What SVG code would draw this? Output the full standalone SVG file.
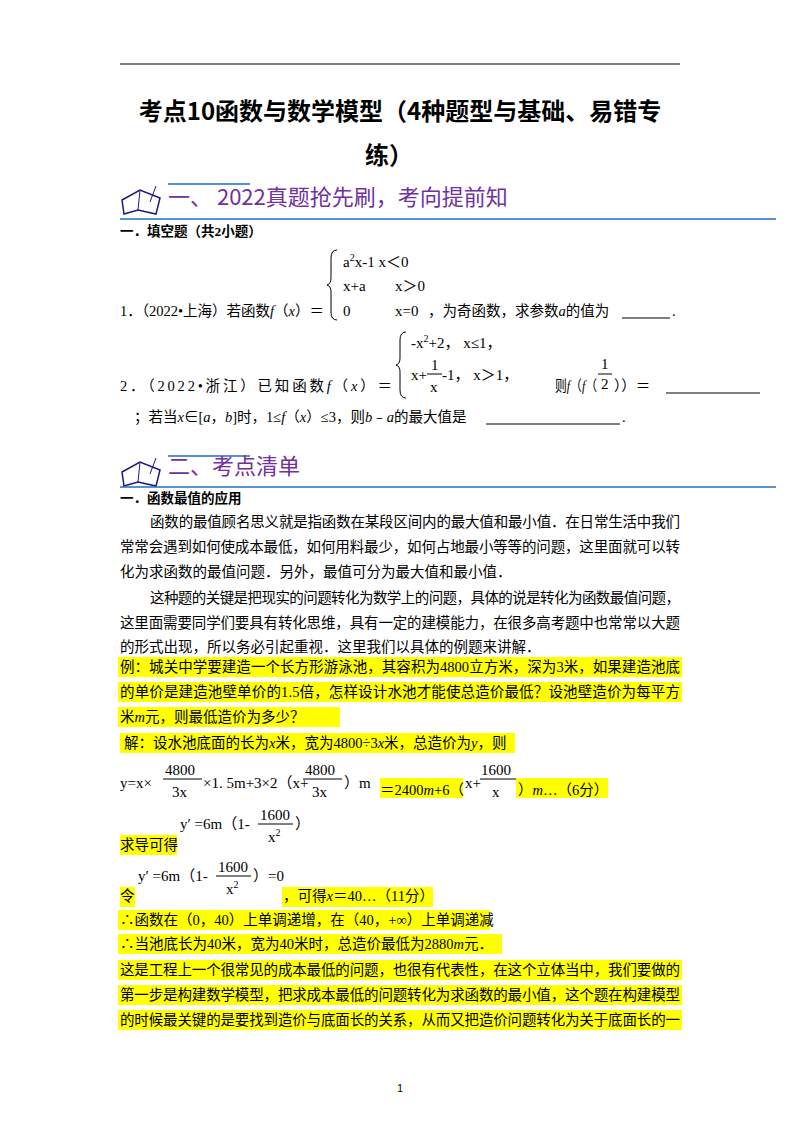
<svg xmlns="http://www.w3.org/2000/svg" width="800" height="1132" viewBox="0 0 800 1132">
<style>
text{font-family:"Liberation Serif","Noto Sans CJK SC",serif;font-size:14.5px;fill:#000}
.m{font-family:"Liberation Serif","Noto Sans CJK SC",serif;font-size:15px}
.b{font-weight:bold;font-size:13.5px}
.h{font-family:"Noto Sans CJK SC",sans-serif;font-size:22px;fill:#7030a0}
.hl{fill:#ffff00}
.bl{stroke:#1f6fc5;stroke-width:1.5}
</style>
<rect width="800" height="1132" fill="#fff"/>
<line x1="120" y1="64" x2="680" y2="64" stroke="#000" stroke-width="1"/>
<text x="400" y="120" text-anchor="middle" style="font-family:'Noto Sans CJK SC',sans-serif;font-weight:bold;font-size:24px">考点10函数与数学模型（4种题型与基础、易错专</text>
<text x="389" y="164" text-anchor="middle" style="font-family:'Noto Sans CJK SC',sans-serif;font-weight:bold;font-size:24px">练）</text>
<g id="icon1">
<path d="M122 200 L140 190 L160 198 L156 214 L138 210 L124 214 Z" fill="#fff" stroke="#1a1a80" stroke-width="1.5"/>
<line x1="140" y1="190" x2="138" y2="210" stroke="#1a1a80"/>
<line x1="150" y1="202" x2="156" y2="186" stroke="#1a1a80"/>
</g>
<line x1="168" y1="184" x2="250" y2="184" class="bl"/>
<text x="168" y="205" class="h">一、  2022真题抢先刷，考向提前知</text>
<line x1="120" y1="219" x2="776" y2="219" class="bl"/>
<text x="120" y="236" class="b">一．填空题（共2小题）</text>
<path d="M337 250 Q331 250 331 258 L331 278 Q331 284 327 285 Q331 286 331 292 L331 312 Q331 320 337 320" fill="none" stroke="#000"/>
<text x="343" y="267" class="m">a<tspan dy="-6" font-size="10">2</tspan><tspan dy="6">x-1  x＜0</tspan></text>
<text x="343" y="291" class="m">x+a</text><text x="395" y="291" class="m">x＞0</text>
<text x="343" y="316" class="m">0</text><text x="395" y="316" class="m">x=0</text>
<text x="120" y="316">1．（2022•上海）若函数<tspan font-style="italic">f</tspan>（<tspan font-style="italic">x</tspan>）＝</text>
<text x="428" y="316">，为奇函数，求参数<tspan font-style="italic">a</tspan>的值为</text>
<line x1="622" y1="318" x2="670" y2="318" stroke="#000"/><text x="672" y="316">.</text>
<path d="M406 332 Q400 332 400 340 L400 358 Q400 364 396 365 Q400 366 400 372 L400 390 Q400 398 406 398" fill="none" stroke="#000"/>
<text x="411" y="348" class="m">-x<tspan dy="-6" font-size="10">2</tspan><tspan dy="6">+2， x≤1，</tspan></text>
<text x="411" y="380" class="m">x+</text><text x="431" y="370" class="m">1</text><line x1="427" y1="374" x2="442" y2="374" stroke="#000"/><text x="430" y="392" class="m">x</text><text x="442" y="380" class="m">-1， x＞1，</text>
<text x="120" y="391" textLength="272" lengthAdjust="spacing">2．（2022•浙江）已知函数<tspan font-style="italic">f</tspan>（<tspan font-style="italic">x</tspan>）＝</text>
<text x="555" y="391" textLength="42" lengthAdjust="spacingAndGlyphs">则<tspan font-style="italic">f</tspan>（<tspan font-style="italic">f</tspan>（</text>
<text x="601" y="369" class="m">1</text><line x1="598" y1="374" x2="612" y2="374" stroke="#000"/><text x="601" y="389" class="m">2</text>
<text x="614" y="391">））＝</text>
<line x1="666" y1="393" x2="760" y2="393" stroke="#000"/>
<text x="134" y="422">；若当<tspan font-style="italic">x</tspan>∈[<tspan font-style="italic">a</tspan>，<tspan font-style="italic">b</tspan>]时，1≤<tspan font-style="italic">f</tspan>（<tspan font-style="italic">x</tspan>）≤3，则<tspan font-style="italic">b</tspan>﹣<tspan font-style="italic">a</tspan>的最大值是</text>
<line x1="486" y1="424" x2="620" y2="424" stroke="#000"/><text x="622" y="422">.</text>
<g id="icon2">
<path d="M122 472 L140 462 L160 470 L156 486 L138 482 L124 486 Z" fill="#fff" stroke="#1a1a80" stroke-width="1.5"/>
<line x1="140" y1="462" x2="138" y2="482" stroke="#1a1a80"/>
<line x1="150" y1="474" x2="156" y2="458" stroke="#1a1a80"/>
</g>
<line x1="168" y1="456" x2="250" y2="456" class="bl"/>
<text x="168" y="474" class="h">二、考点清单</text>
<line x1="120" y1="487" x2="776" y2="487" class="bl"/>
<text x="120" y="503" class="b">一．函数最值的应用</text>
<text x="150" y="527" textLength="530">函数的最值顾名思义就是指函数在某段区间内的最大值和最小值．在日常生活中我们</text>
<text x="120" y="552" textLength="560">常常会遇到如何使成本最低，如何用料最少，如何占地最小等等的问题，这里面就可以转</text>
<text x="120" y="577">化为求函数的最值问题．另外，最值可分为最大值和最小值．</text>
<text x="150" y="603" textLength="530">这种题的关键是把现实的问题转化为数学上的问题，具体的说是转化为函数最值问题，</text>
<text x="120" y="628" textLength="560">这里面需要同学们要具有转化思维，具有一定的建模能力，在很多高考题中也常常以大题</text>
<text x="120" y="652">的形式出现，所以务必引起重视．这里我们以具体的例题来讲解．</text>
<g id="hl">
<rect class="hl" x="118" y="657" width="564" height="20"/>
<rect class="hl" x="118" y="682" width="564" height="20"/>
<rect class="hl" x="118" y="707" width="222" height="20"/>
<rect class="hl" x="120" y="733" width="395" height="20"/>
<rect class="hl" x="380" y="778" width="83" height="20"/>
<rect class="hl" x="516" y="778" width="92" height="20"/>
<rect class="hl" x="120" y="835" width="57" height="20"/>
<rect class="hl" x="120" y="887" width="15" height="20"/>
<rect class="hl" x="282" y="887" width="151" height="20"/>
<rect class="hl" x="118" y="910" width="372" height="20"/>
<rect class="hl" x="118" y="934" width="384" height="20"/>
<rect class="hl" x="118" y="960" width="564" height="20"/>
<rect class="hl" x="118" y="985" width="564" height="20"/>
<rect class="hl" x="118" y="1010" width="564" height="20"/>
</g>
<text x="120" y="672" textLength="560">例：城关中学要建造一个长方形游泳池，其容积为4800立方米，深为3米，如果建造池底</text>
<text x="120" y="697" textLength="560">的单价是建造池壁单价的1.5倍，怎样设计水池才能使总造价最低？设池壁造价为每平方</text>
<text x="120" y="722">米<tspan font-style="italic">m</tspan>元，则最低造价为多少？</text>
<text x="124" y="748"> 解：设水池底面的长为<tspan font-style="italic">x</tspan>米，宽为4800÷3<tspan font-style="italic">x</tspan>米，总造价为<tspan font-style="italic">y</tspan>，则</text>
<text x="120" y="788" class="m">y=x×</text>
<text x="165" y="775" class="m">4800</text><line x1="163" y1="779" x2="202" y2="779" stroke="#000"/><text x="172" y="797" class="m">3x</text>
<text x="203" y="788" class="m">×1. 5m+3×2（x+</text>
<text x="305" y="775" class="m">4800</text><line x1="303" y1="779" x2="342" y2="779" stroke="#000"/><text x="312" y="797" class="m">3x</text>
<text x="344" y="788" class="m">）m</text>
<text x="380" y="795">＝2400<tspan font-style="italic">m</tspan>+6（</text>
<text x="465" y="788" class="m">x+</text>
<text x="481" y="775" class="m">1600</text><line x1="480" y1="779" x2="516" y2="779" stroke="#000"/><text x="492" y="797" class="m">x</text>
<text x="518" y="795">）<tspan font-style="italic">m</tspan>…（6分）</text>
<text x="180" y="829" class="m">y′  =6m（1-</text>
<text x="260" y="820" class="m">1600</text><line x1="258" y1="824" x2="293" y2="824" stroke="#000"/><text x="268" y="842" class="m">x<tspan dy="-6" font-size="10">2</tspan></text>
<text x="295" y="829" class="m">）</text>
<text x="120" y="850">求导可得</text>
<text x="138" y="881" class="m">y′  =6m（1-</text>
<text x="218" y="872" class="m">1600</text><line x1="216" y1="876" x2="251" y2="876" stroke="#000"/><text x="226" y="894" class="m">x<tspan dy="-6" font-size="10">2</tspan></text>
<text x="253" y="881" class="m">）=0</text>
<text x="120" y="901">令</text>
<text x="283" y="901">，可得<tspan font-style="italic">x</tspan>＝40…（11分）</text>
<text x="120" y="925">∴函数在（0，40）上单调递增，在（40，+∞）上单调递减</text>
<text x="120" y="949">∴当池底长为40米，宽为40米时，总造价最低为2880<tspan font-style="italic">m</tspan>元．</text>
<text x="120" y="975" textLength="560">这是工程上一个很常见的成本最低的问题，也很有代表性，在这个立体当中，我们要做的</text>
<text x="120" y="1000" textLength="560">第一步是构建数学模型，把求成本最低的问题转化为求函数的最小值，这个题在构建模型</text>
<text x="120" y="1025" textLength="560">的时候最关键的是要找到造价与底面长的关系，从而又把造价问题转化为关于底面长的一</text>
<text x="400" y="1092" text-anchor="middle" style="font-family:'Liberation Sans',sans-serif;font-size:11px">1</text>
</svg>
